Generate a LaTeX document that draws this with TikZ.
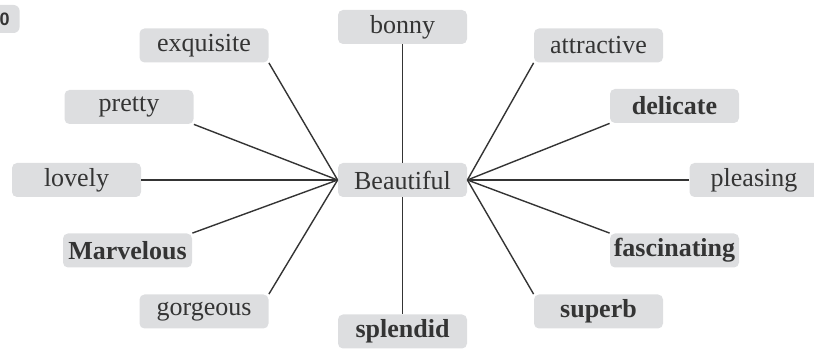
\documentclass[tikz,border=0pt]{standalone}
\usepackage{fontspec}
\setmainfont{Liberation Serif}
\setsansfont{Liberation Sans}
\usepackage{xcolor}
\definecolor{boxgray}{RGB}{221,222,224}
\definecolor{inkgray}{RGB}{52,52,52}

\begin{document}
\begin{tikzpicture}[x=0.5pt,y=-0.5pt,
  word/.style={fill=boxgray,rounded corners=2.5pt,minimum width=64.5pt,minimum height=17pt,
    inner sep=0pt,text=inkgray,font=\fontsize{13}{15}\selectfont},
  bword/.style={word,font=\fontsize{13}{15}\selectfont\bfseries},
  spoke/.style={draw=inkgray,line width=0.7pt}]
  % canvas: 814 x 351 px, y grows downwards
  \useasboundingbox (0,0) rectangle (814,351);
  \begin{scope}
    \clip (0,0) rectangle (814,351);
    % figure tag, cut off at the left edge
    \node[fill=boxgray,rounded corners=3pt,anchor=east,minimum height=14pt,inner xsep=5pt,
      text=inkgray,font=\sffamily\bfseries\fontsize{9}{10}\selectfont] (tag) at (20,19) {0};
    \node[word] (pleas) at (754,180) {pleasing};
  \end{scope}
  % hub
  \node[word] (beau) at (402.5,180) {Beautiful};
  % left side
  \node[word]  (exq)   at (204,45.5)  {exquisite};
  \node[word]  (pretty) at (129,107)  {pretty};
  \node[word]  (lovely) at (76.5,180) {lovely};
  \node[bword] (marv)  at (127.5,250.5) {Marvelous};
  \node[word]  (gorg)  at (204,311.5) {gorgeous};
  % top and bottom
  \node[word]  (bonny) at (402.5,27)  {bonny};
  \node[bword] (splen) at (402.5,331.5) {splendid};
  % right side
  \node[word]  (attr)  at (598.5,45.5) {attractive};
  \node[bword] (deli)  at (674.5,106)  {delicate};
  \node[bword] (fasc)  at (674.5,250.5) {fascinating};
  \node[bword] (superb) at (598.5,311.5) {superb};
  % spokes
  \foreach \n/\a in {exq/south east,pretty/south east,lovely/east,marv/north east,gorg/north east}
    \draw[spoke] (\n.\a) -- (beau.west);
  \foreach \n/\a in {attr/south west,deli/south west,pleas/west,fasc/north west,superb/north west}
    \draw[spoke] (beau.east) -- (\n.\a);
  \draw[spoke] (bonny.south) -- (beau.north);
  \draw[spoke] (beau.south) -- (splen.north);
\end{tikzpicture}
\end{document}
